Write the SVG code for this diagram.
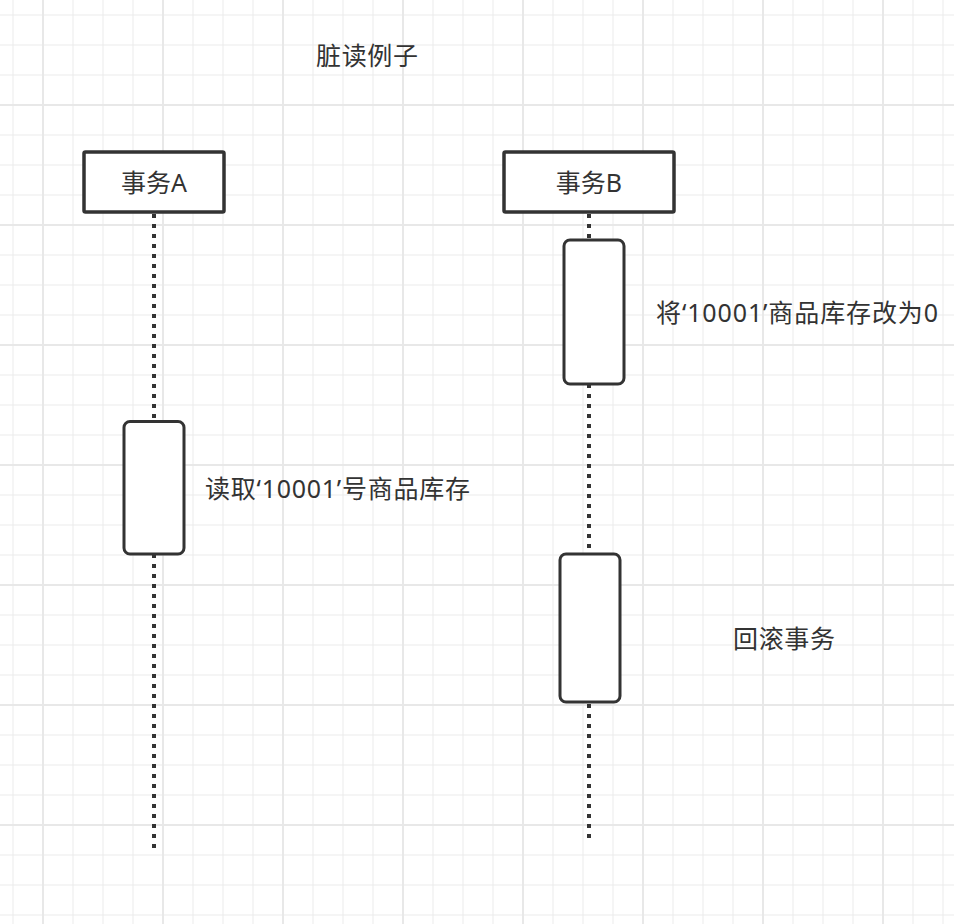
<svg xmlns="http://www.w3.org/2000/svg" width="954" height="924" viewBox="0 0 954 924">
  <defs>
    <style>
      .minor { stroke: #ebebeb; stroke-width: 1; }
      .major { stroke: #e8e8e8; stroke-width: 2; }
      .head { fill: #ffffff; stroke: #333333; stroke-width: 3.5; }
      .act { fill: #ffffff; stroke: #333333; stroke-width: 3; }
      .life { stroke: #333333; stroke-width: 4; stroke-dasharray: 4 6; fill: none; }
      text { font-family: "Noto Sans", "Noto Sans CJK SC", sans-serif; font-size: 25px; fill: #333333; }
      .c { text-anchor: middle; }
    </style>
  </defs>
  <rect x="0" y="0" width="954" height="924" fill="#ffffff"/>
  <g id="grid">
    <g class="minor">
      <path d="M13 0V924M73 0V924M103 0V924M133 0V924M193 0V924M223 0V924M253 0V924M313 0V924M343 0V924M373 0V924M433 0V924M463 0V924M493 0V924M553 0V924M583 0V924M613 0V924M673 0V924M703 0V924M733 0V924M793 0V924M823 0V924M853 0V924M913 0V924M943 0V924"/>
      <path d="M0 15H954M0 45H954M0 75H954M0 135H954M0 165H954M0 195H954M0 255H954M0 285H954M0 315H954M0 375H954M0 405H954M0 435H954M0 495H954M0 525H954M0 555H954M0 615H954M0 645H954M0 675H954M0 735H954M0 765H954M0 795H954M0 855H954M0 885H954M0 915H954"/>
    </g>
    <g class="major">
      <path d="M43 0V924M163 0V924M283 0V924M403 0V924M523 0V924M643 0V924M763 0V924M883 0V924"/>
      <path d="M0 105H954M0 225H954M0 345H954M0 465H954M0 585H954M0 705H954M0 825H954"/>
    </g>
  </g>
  <text id="title" x="316" y="65" textLength="102" lengthAdjust="spacing">脏读例子</text>
  <g id="connectors">
    <line class="life" x1="154" y1="214" x2="154" y2="848"/>
    <line class="life" x1="589" y1="214" x2="589" y2="838"/>
  </g>
  <g id="txA">
    <rect class="head" x="84" y="152" width="140" height="60" rx="1.5"/>
    <text class="c" x="154" y="192">事务A</text>
  </g>
  <g id="txB">
    <rect class="head" x="504" y="152" width="170" height="60" rx="1.5"/>
    <text class="c" x="589" y="192">事务B</text>
  </g>
  <g id="actA">
    <rect class="act" x="124" y="421.5" width="60" height="132.5" rx="6"/>
    <text x="205" y="498" textLength="265" lengthAdjust="spacing">读取‘10001’号商品库存</text>
  </g>
  <g id="actB1">
    <rect class="act" x="564" y="240" width="60" height="144" rx="6"/>
    <text x="656" y="322" textLength="282" lengthAdjust="spacing">将‘10001’商品库存改为0</text>
  </g>
  <g id="actB2">
    <rect class="act" x="560" y="554" width="60" height="148" rx="6"/>
    <text x="733" y="648" textLength="102" lengthAdjust="spacing">回滚事务</text>
  </g>
</svg>
